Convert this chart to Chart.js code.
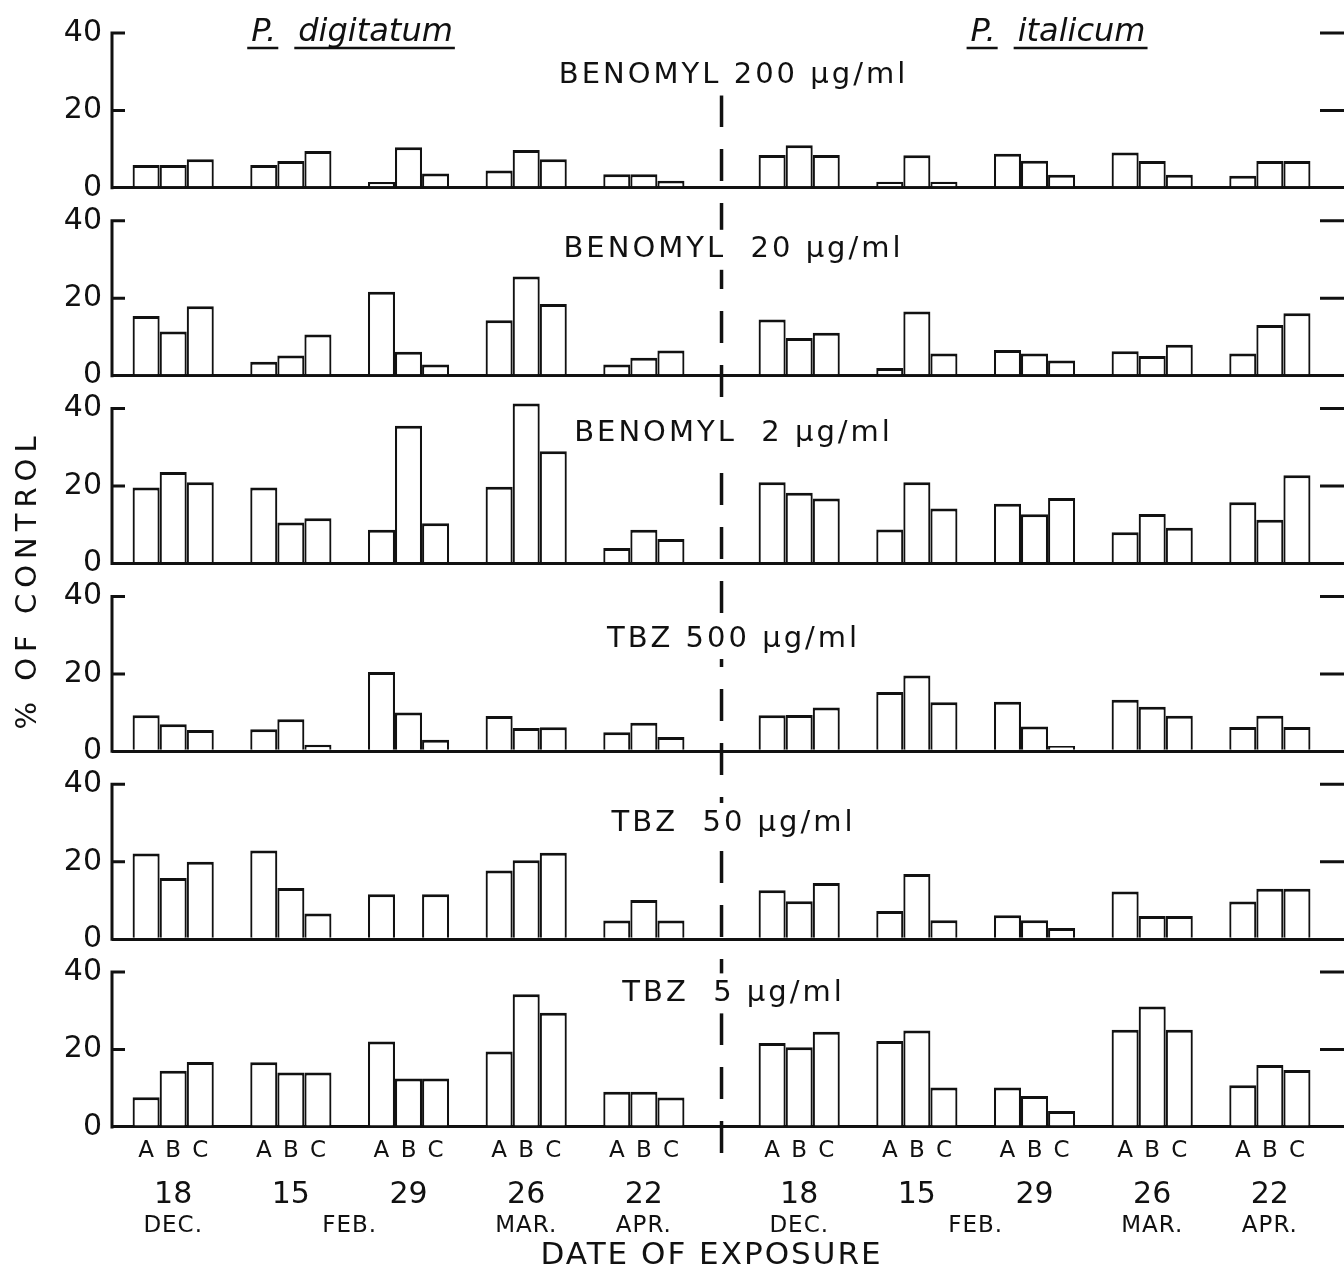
<!DOCTYPE html>
<html>
<head>
<meta charset="utf-8">
<title>% of control - benomyl / TBZ</title>
<script src="https://cdn.jsdelivr.net/npm/chart.js@4.4.1/dist/chart.umd.min.js"></script>
<style>
    html, body { margin: 0; padding: 0; background: #fff; }
    #wrap { position: relative; width: 1344px; height: 1270px; }
</style>
</head>
<body>
<div id="wrap"><canvas id="chart" width="1344" height="1270"></canvas></div>
<script>
// same five dates of exposure for both species
let dates = ['18', '15', '29', '26', '22', '18', '15', '29', '26', '22'];
let months = ['DEC.', 'FEB.', 'FEB.', 'MAR.', 'APR.', 'DEC.', 'FEB.', 'FEB.', 'MAR.', 'APR.'];
let isolates = ['A', 'B', 'C'];
let yTicks = [0, 20, 40];

let panelTitles = ['BENOMYL 200 µg/ml', 'BENOMYL  20 µg/ml', 'BENOMYL  2 µg/ml',
                   'TBZ 500 µg/ml', 'TBZ  50 µg/ml', 'TBZ  5 µg/ml'];

// % of control, one [A, B, C] triple per date (P. digitatum x5, then P. italicum x5)
let benomyl200 = [[5.9, 5.9, 7.4], [5.9, 6.9, 9.5], [1.5, 10.5, 3.7], [4.5, 9.8, 7.4], [3.5, 3.5, 1.8],
                  [8.5, 11.0, 8.5], [1.6, 8.4, 1.6], [8.8, 7.0, 3.4], [9.1, 6.9, 3.4], [3.1, 6.9, 6.9]];
let benomyl20 = [[15.4, 11.4, 17.9], [3.6, 5.2, 10.6], [21.7, 6.2, 2.9], [14.3, 25.6, 18.5], [2.9, 4.6, 6.5],
                 [14.5, 9.7, 11.1], [2.0, 16.6, 5.7], [6.6, 5.7, 3.9], [6.3, 5.1, 8.0], [5.7, 13.1, 16.1]];
let benomyl2 = [[19.6, 23.6, 21.0], [19.6, 10.6, 11.7], [8.7, 35.6, 10.4], [19.8, 41.3, 29.0], [4.0, 8.7, 6.3],
                [21.0, 18.3, 16.8], [8.8, 21.0, 14.2], [15.4, 12.7, 16.9], [8.1, 12.8, 9.2], [15.8, 11.3, 22.8]];
let tbz500 = [[9.3, 7.0, 5.5], [5.7, 8.3, 1.7], [20.5, 10.0, 3.0], [9.1, 6.0, 6.2], [4.9, 7.4, 3.7],
              [9.3, 9.4, 11.3], [15.3, 19.6, 12.7], [12.8, 6.4, 1.4], [13.3, 11.5, 9.2], [6.3, 9.2, 6.3]];
let tbz50 = [[22.1, 15.8, 20.0], [22.9, 13.2, 6.6], [11.6, 0, 11.6], [17.7, 20.4, 22.3], [4.8, 10.1, 4.8],
             [12.6, 9.8, 14.5], [7.3, 16.8, 4.9], [6.2, 4.9, 2.9], [12.3, 6.0, 6.0], [9.7, 13.0, 13.0]];
let tbz5 = [[7.7, 14.5, 16.8], [16.7, 14.1, 14.1], [22.1, 12.5, 12.5], [19.5, 34.3, 29.5], [9.1, 9.1, 7.6],
            [21.7, 20.6, 24.6], [22.2, 24.9, 10.2], [10.2, 8.0, 4.1], [25.1, 31.1, 25.1], [10.8, 16.0, 14.7]];

let panels = [benomyl200, benomyl20, benomyl2, tbz500, tbz50, tbz5];

// layout
let MID_GAP = 0.32;            // extra space between the two species
let Y_MAX = 48.5;              // room above the 40 tick in each panel
let titleAt = [29, 32.5, 33.5, 29, 30, 34.5];
let speciesAt = [1.52, 7.52];
let FONT = 'DejaVu Sans';
let INK = '#111';

let groupPos = dates.map((d, i) => i + (i >= 5 ? MID_GAP : 0));
let midX = (groupPos[4] + groupPos[5]) / 2;

let datasets = [];
panels.forEach((rows, p) => {
    isolates.forEach((iso, k) => {
        datasets.push({
            label: panelTitles[p] + ' ' + iso,
            data: rows.map(r => r[k]),
            yAxisID: 'y' + p,
            stack: iso,
            backgroundColor: '#fff',
            borderColor: INK,
            borderWidth: { top: 3, left: 2.2, right: 2.2, bottom: 0 },
            borderSkipped: 'start',
            categoryPercentage: 0.69,
            barPercentage: 1
        });
    });
});

let scales = {
    x: {
        type: 'linear',
        display: false,
        offset: false,
        min: -0.52,
        max: 9.95,
        afterBuildTicks: s => { s.ticks = groupPos.map(v => ({ value: v })); }
    }
};
panels.forEach((rows, p) => {
    scales['y' + p] = {
        type: 'linear',
        position: 'left',
        stack: 'panels',
        stackWeight: 1,
        weight: 6 - p,
        min: 0,
        max: Y_MAX,
        stacked: false,
        afterBuildTicks: s => { s.ticks = yTicks.map(v => ({ value: v })); },
        afterFit: s => { s.width = 56; s.paddingTop = 0; s.paddingBottom = 0; },
        border: { display: false },
        grid: {
            drawTicks: false,
            lineWidth: 3,
            color: c => (c.tick && c.tick.value === 0) ? INK : 'rgba(0,0,0,0)'
        },
        ticks: { padding: 10, color: INK, font: { family: FONT, size: 30 } }
    };
});

function spacedText(ctx, text, x, y, spacing) {
    ctx.letterSpacing = spacing + 'px';
    ctx.fillText(text, x, y);
    ctx.letterSpacing = '0px';
}

let decor = {
    id: 'decor',
    afterDraw(chart) {
        let ctx = chart.ctx;
        let xs = chart.scales.x;
        let area = chart.chartArea;
        let dashX = xs.getPixelForValue(midX);
        ctx.save();
        ctx.strokeStyle = INK;
        ctx.fillStyle = INK;

        // dashed separator between the species
        ctx.lineWidth = 3.5;
        ctx.setLineDash([32, 22]);
        ctx.beginPath();
        ctx.moveTo(dashX, chart.scales.y0.getPixelForValue(24));
        ctx.lineTo(dashX, area.bottom + 26);
        ctx.stroke();
        ctx.setLineDash([]);

        panels.forEach((rows, p) => {
            let ys = chart.scales['y' + p];
            let y0 = ys.getPixelForValue(0);
            let y40 = ys.getPixelForValue(40);
            // left axis with inward ticks
            ctx.lineWidth = 3;
            ctx.beginPath();
            ctx.moveTo(area.left, y0 + 1.5);
            ctx.lineTo(area.left, y40);
            yTicks.slice(1).forEach(v => {
                let yy = ys.getPixelForValue(v);
                ctx.moveTo(area.left - 1.5, yy);
                ctx.lineTo(area.left + 13, yy);
                ctx.moveTo(area.right - 24, yy);
                ctx.lineTo(area.right, yy);
            });
            ctx.stroke();

            // panel title over the dashed line
            ctx.font = '29px "' + FONT + '"';
            ctx.letterSpacing = '3px';
            let w = ctx.measureText(panelTitles[p]).width;
            let ty = ys.getPixelForValue(titleAt[p]);
            let tx = dashX + 12;
            ctx.fillStyle = '#fff';
            ctx.fillRect(tx - w / 2 - 6, ty - 20, w + 12, 40);
            ctx.fillStyle = INK;
            ctx.textAlign = 'center';
            ctx.textBaseline = 'middle';
            ctx.fillText(panelTitles[p], tx, ty);
            ctx.letterSpacing = '0px';
        });

        // species names, italic and underlined
        let names = [['P.', 'digitatum'], ['P.', 'italicum']];
        ctx.font = 'italic 32px "' + FONT + '"';
        ctx.textAlign = 'left';
        ctx.textBaseline = 'alphabetic';
        names.forEach((parts, i) => {
            let wP = ctx.measureText(parts[0]).width;
            let wN = ctx.measureText(parts[1]).width;
            let gap = 22;
            let total = wP + gap + wN;
            let cx = xs.getPixelForValue(speciesAt[i]);
            let left = cx - total / 2;
            let base = 41;
            ctx.fillText(parts[0], left, base);
            ctx.fillText(parts[1], left + wP + gap, base);
            ctx.lineWidth = 2.5;
            ctx.beginPath();
            ctx.moveTo(left - 4, base + 7);
            ctx.lineTo(left + wP + 2, base + 7);
            ctx.moveTo(left + wP + gap - 4, base + 7);
            ctx.lineTo(left + total + 2, base + 7);
            ctx.stroke();
        });

        // isolate letters under each bar
        ctx.textAlign = 'center';
        ctx.textBaseline = 'middle';
        ctx.font = '23px "' + FONT + '"';
        let lastPanel = (panels.length - 1) * isolates.length;
        isolates.forEach((iso, k) => {
            let meta = chart.getDatasetMeta(lastPanel + k);
            meta.data.forEach(bar => ctx.fillText(iso, bar.x, area.bottom + 24));
        });

        // dates and months
        ctx.font = '30px "' + FONT + '"';
        dates.forEach((d, i) => ctx.fillText(d, xs.getPixelForValue(groupPos[i]), area.bottom + 68));
        ctx.font = '23px "' + FONT + '"';
        let i = 0;
        while (i < months.length) {
            let j = i;
            while (j + 1 < months.length && months[j + 1] === months[i] && (j + 1) !== 5) j++;
            let mx = (xs.getPixelForValue(groupPos[i]) + xs.getPixelForValue(groupPos[j])) / 2;
            spacedText(ctx, months[i], mx, area.bottom + 99, 1);
            i = j + 1;
        }

        // axis titles
        ctx.font = '31px "' + FONT + '"';
        spacedText(ctx, 'DATE OF EXPOSURE', dashX - 10, area.bottom + 129, 2);

        ctx.translate(28, (area.top + 33 + area.bottom) / 2);
        ctx.rotate(-Math.PI / 2);
        ctx.font = '29px "' + FONT + '"';
        spacedText(ctx, '% OF CONTROL', 0, 0, 6);
        ctx.restore();
    }
};

let chart = new Chart(document.getElementById('chart'), {
    type: 'bar',
    data: { labels: groupPos, datasets: datasets },
    options: {
        responsive: false,
        animation: false,
        devicePixelRatio: 1,
        layout: { padding: { left: 56, top: 0, right: 0, bottom: 143 } },
        plugins: {
            legend: { display: false },
            title: { display: false },
            tooltip: { enabled: false }
        },
        scales: scales
    },
    plugins: [decor]
});
</script>
</body>
</html>
